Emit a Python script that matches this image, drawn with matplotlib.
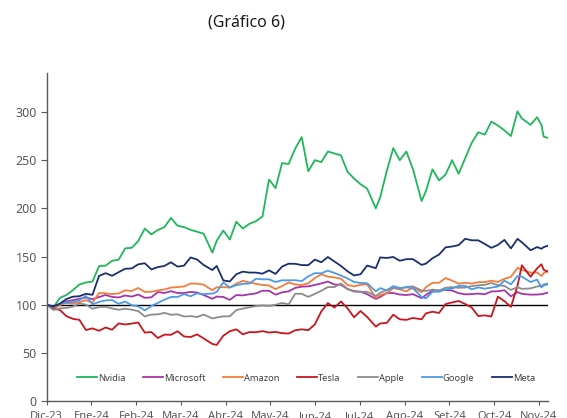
import matplotlib
matplotlib.use("Agg")
import matplotlib.pyplot as plt
import numpy as np

plt.rcParams['font.family'] = ['Noto Sans', 'DejaVu Sans']

# trading-day index since 29-Dec-2023
days = [0, 3, 6, 9, 12, 15, 18, 21, 24, 27, 30, 33, 36, 39, 42, 45, 48, 51, 54, 57,
        60, 63, 66, 69, 72, 76, 78, 81, 84, 87, 90, 93, 96, 99, 102, 105, 108, 111,
        114, 117, 120, 123, 126, 129, 132, 135, 138, 141, 144, 147, 151, 153, 156,
        159, 162, 165, 168, 172, 174, 177, 180, 183, 186, 189, 192, 195, 198, 201,
        204, 207, 210, 213, 216, 218, 222, 225, 227, 228, 230]

nvidia = [100, 97, 107, 110, 115, 121, 123, 124, 140, 140.5, 145.6, 146.6, 158.5, 159,
          166, 179, 173, 177.5, 180.5, 190, 182, 180.5, 177.7, 175.7, 173.7, 154, 166.4,
          177, 167.6, 186, 179, 184, 186.6, 191.6, 230, 221, 247, 246, 262, 274, 238.5,
          250, 248, 259, 257, 255, 238, 231, 225, 220.5, 200, 211.5, 238.5, 262.5, 250,
          259, 241, 207.6, 218, 240.5, 229, 235, 250, 236, 252, 268, 279, 276.5, 290,
          286, 281, 275, 300.7, 293.3, 286.7, 294.6, 286.6, 274.6, 273]
microsoft = [100, 97.8, 99.9, 103.3, 104.7, 106.1, 107.4, 105.7, 107.9, 110.1, 108, 107.5,
             109.5, 108.4, 110.5, 107.1, 107.6, 113.1, 112.1, 114, 112.1, 112.1, 113.2,
             112.6, 110, 106.1, 108.4, 108, 105, 110, 109.6, 110.8, 111.7, 114.5, 114.4,
             110.4, 112.8, 113.8, 117.4, 118.7, 119, 120.4, 122.1, 124, 120.9, 120.7,
             116.2, 114.1, 113.5, 110.9, 105.9, 108, 112, 112.1, 110.5, 110, 110.9, 106.8,
             110.1, 114.5, 114.6, 115.3, 114.7, 111.9, 110.7, 111, 111.5, 110.8, 113.7,
             113.9, 115, 108.6, 113.1, 111.2, 110.4, 110.5, 110.9, 111.4, 112.5]
amazon = [100, 95.2, 99.6, 101.8, 101, 102.7, 104.7, 102.1, 112.1, 111.8, 111, 111.6,
          114.9, 114.2, 117.3, 113.2, 113.4, 114.8, 115.8, 117.7, 118.3, 118.9, 121.9,
          121.8, 120.8, 114.9, 118.1, 118.2, 117.8, 121.8, 124.7, 123.1, 121.6, 120.5,
          119.9, 116.1, 119.3, 123.1, 121, 120.3, 122.2, 127.6, 131.6, 129, 128.3, 127,
          120.5, 119, 120.6, 121.2, 107.1, 109.8, 112, 117.3, 115.9, 113.9, 117.5, 112.8,
          118.2, 122.7, 122.7, 127.6, 125, 121.8, 122.7, 121.9, 123.4, 123.4, 124.9,
          123.6, 126.8, 128.9, 138.2, 136.1, 133.3, 133.5, 129.7, 132.6, 135.4]
tesla = [100, 95.7, 94.6, 88.1, 85.3, 84.2, 73.7, 75.4, 72.9, 76.3, 74, 80.5, 79.4, 80.4,
         81.5, 71, 71.6, 65.4, 68.9, 68.7, 72.4, 67, 66.4, 69.1, 65, 59.2, 58.2, 67.7,
         72.4, 74.4, 69.2, 71.5, 71.4, 72.5, 71.1, 71.7, 70.4, 70, 73.4, 74.4, 73.5, 79.4,
         93.1, 101.6, 97, 103.3, 96.3, 86.9, 93.4, 87.3, 77.2, 80.5, 81, 89.6, 84.8, 84.2,
         86.2, 84.8, 91, 92.7, 91.4, 100.6, 102.3, 103.8, 100.7, 97, 88.2, 88.9, 87.7,
         108.3, 103.6, 97.7, 119.5, 140.9, 129, 137.7, 141.9, 136.3, 134]
apple = [100, 94.5, 96.1, 96.6, 98, 101.4, 99.9, 95.8, 97.5, 97.8, 96.1, 94.7, 95.8, 94.8,
         93.3, 87.8, 89.7, 89.9, 91.5, 89.5, 90, 87.7, 88.1, 87.2, 89.7, 85.7, 86.7, 87.9,
         87.9, 94.4, 95.9, 97.3, 98.6, 99.2, 98.7, 99.9, 101.8, 100.3, 111.3, 111.3, 108.1,
         111.2, 114.4, 118.3, 118.2, 122, 116.5, 113.5, 113.3, 113.4, 109, 112.3, 115.2,
         117.3, 116.6, 118.4, 119, 114.7, 114.3, 115.6, 114.6, 117.6, 118.2, 117.5, 117.8,
         119.2, 120.1, 120.6, 122.5, 120.2, 119.4, 115.3, 118.2, 116.4, 116.9, 118.9, 119.4,
         121, 122]
google = [100, 97.6, 100.9, 102.1, 102.7, 104.7, 109, 100.3, 102.9, 104.4, 104.8, 100.9,
          103.2, 99.4, 98.2, 94.1, 98.6, 101.8, 105.2, 108, 108, 111, 108.7, 111.8, 110.9,
          111.5, 113.3, 123.1, 117.8, 120.3, 121.6, 121.9, 126.9, 126.3, 126.3, 123.5,
          125.3, 125.3, 125.4, 124.5, 129.4, 132.7, 132.6, 135.3, 132.9, 130.2, 127.2,
          123.6, 122.5, 122.3, 113.8, 117.2, 114.8, 119.3, 117.3, 117.9, 117, 108, 106.5,
          113.4, 113.4, 115.9, 116.8, 119.5, 119.6, 115.9, 117.9, 116.6, 117.7, 118.8,
          124.9, 121.1, 129.6, 129.1, 123.5, 126, 118, 120, 121.1]
meta = [100, 98, 101, 105.8, 108.3, 108.8, 111.3, 110.2, 129.8, 132.7, 130, 133.7, 137.3,
        137.6, 141.9, 143, 136.6, 139, 140.2, 144, 139.5, 140.5, 149, 146.9, 141.2, 135.9,
        140.2, 125.2, 124.1, 131.6, 134.3, 133.3, 133.3, 132.2, 135.6, 131.9, 139.6, 142.5,
        142.4, 141.1, 141, 146.8, 144, 149.5, 144.8, 140.2, 134.7, 130.3, 131.6, 140.6,
        137.9, 149, 148.5, 149.5, 145.6, 147.2, 147.3, 141.3, 142.6, 148.2, 152, 159.5,
        160.4, 161.8, 168.4, 166.8, 166.8, 163, 159, 162, 167.2, 158.4, 168.3, 164.8,
        156.5, 159.8, 158, 159.7, 161.3]

series_names = ["Nvidia", "Microsoft", "Amazon", "Tesla", "Apple", "Google", "Meta"]
series_vals = [nvidia, microsoft, amazon, tesla, apple, google, meta]
colors = ["#1FB75A", "#A536A8", "#F47C3C", "#C8161D", "#8C8C8C", "#4C9BE8", "#1B2F6E"]

month_labels = ["Dic-23", "Ene-24", "Feb-24", "Mar-24", "Abr-24", "May-24", "Jun-24",
                "Jul-24", "Ago-24", "Set-24", "Oct-24", "Nov-24"]
y_ticks = [0, 50, 100, 150, 200, 250, 300]

fig = plt.figure(figsize=(5.67, 4.18), dpi=100)
ax = fig.add_axes([0.0824, 0.0407, 0.8841, 0.7835])

ax.axhline(100, color="#000000", lw=1.0, zorder=1)
for name, vals, c in zip(series_names, series_vals, colors):
    ax.plot(days, vals, color=c, lw=1.3, label=name, zorder=2)

ax.set_xlim(0, 230)
ax.set_ylim(0, 340)
ax.set_yticks(y_ticks)
tick_pos = [k * 20.53 for k in range(len(month_labels))]
ax.set_xticks(tick_pos)
ax.set_xticklabels(month_labels)

for s in ["top", "right"]:
    ax.spines[s].set_visible(False)
for s in ["left", "bottom"]:
    ax.spines[s].set_color("#595959")
    ax.spines[s].set_linewidth(1.0)
ax.tick_params(axis="y", direction="out", length=4, color="#595959", labelsize=9,
               labelcolor="#595959", pad=3)
ax.tick_params(axis="x", direction="out", length=3, color="#595959", labelsize=8,
               labelcolor="#595959", pad=4)

leg = ax.legend(loc="center", bbox_to_anchor=(0.517, 0.070), ncol=7, frameon=False,
                fontsize=6.7, handlelength=2.15, handletextpad=0.1, columnspacing=1.9,
                labelcolor="#404040", borderpad=0)

fig.text(0.434, 0.945, "(Gráfico 6)", ha="center", va="center", fontsize=11.5,
         color="#1a1a1a")

fig.savefig("out.png", dpi=100)
